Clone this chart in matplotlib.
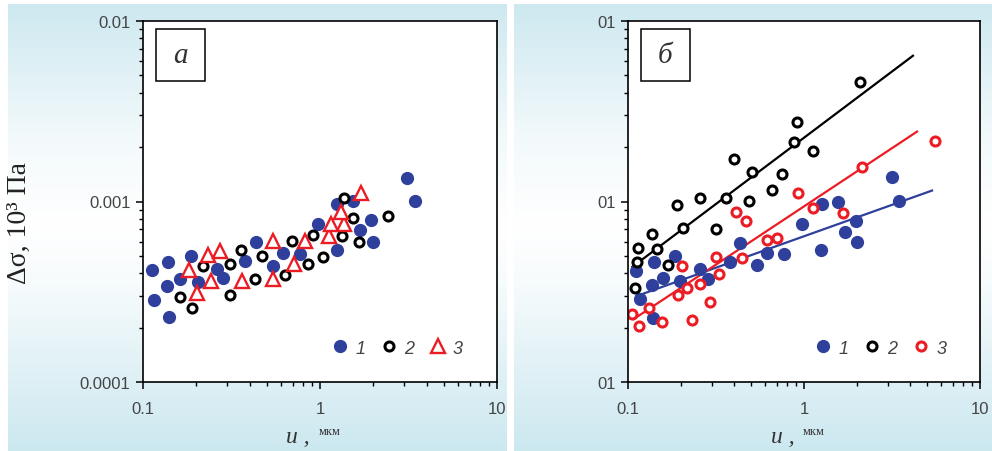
import numpy as np
import matplotlib
matplotlib.use('Agg')
import matplotlib.pyplot as plt
from matplotlib.patches import Rectangle

# series 1 (filled blue), same in both panels
x1 = [0.112, 0.116, 0.139, 0.136, 0.140, 0.162, 0.187, 0.204, 0.261, 0.282, 0.377, 0.435,
      0.541, 0.615, 0.771, 0.978, 1.24, 1.54, 1.24, 1.68, 1.94, 1.99, 3.11, 3.44]
y1 = [4.17e-4, 2.86e-4, 4.62e-4, 3.42e-4, 2.29e-4, 3.72e-4, 4.99e-4, 3.60e-4, 4.23e-4, 3.76e-4,
      4.70e-4, 5.94e-4, 4.41e-4, 5.19e-4, 5.12e-4, 7.50e-4, 9.69e-4, 1.01e-3, 5.39e-4, 6.95e-4,
      7.90e-4, 5.94e-4, 1.35e-3, 1.01e-3]

# panel a, series 2 (black open) and 3 (red triangles)
x2a = [0.162, 0.189, 0.217, 0.309, 0.311, 0.358, 0.427, 0.473, 0.632, 0.692, 0.850, 0.913,
       1.04, 1.34, 1.37, 1.54, 1.67, 2.42]
y2a = [2.94e-4, 2.56e-4, 4.41e-4, 3.02e-4, 4.48e-4, 5.39e-4, 3.70e-4, 5.02e-4, 3.94e-4, 6.08e-4,
       4.48e-4, 6.52e-4, 4.93e-4, 6.47e-4, 1.04e-3, 8.10e-4, 5.98e-4, 8.28e-4]
x3a = [0.182, 0.201, 0.234, 0.272, 0.242, 0.362, 0.541, 0.541, 0.716, 0.820, 1.12, 1.16,
       1.36, 1.31, 1.71]
y3a = [4.17e-4, 3.12e-4, 5.08e-4, 5.32e-4, 3.63e-4, 3.64e-4, 6.04e-4, 3.72e-4, 4.52e-4, 6.04e-4,
       6.40e-4, 7.46e-4, 7.46e-4, 8.71e-4, 1.12e-3]

# panel б
x2b = [0.110, 0.113, 0.114, 0.136, 0.146, 0.169, 0.189, 0.206, 0.258, 0.318, 0.362, 0.402,
       0.489, 0.507, 0.658, 0.746, 0.877, 0.912, 1.13, 2.08]
y2b = [3.33e-4, 4.60e-4, 5.52e-4, 6.61e-4, 5.46e-4, 4.47e-4, 9.57e-4, 7.11e-4, 1.05e-3, 7.00e-4,
       1.05e-3, 1.73e-3, 1.01e-3, 1.45e-3, 1.16e-3, 1.42e-3, 2.14e-3, 2.77e-3, 1.90e-3, 4.61e-3]
x3b = [0.106, 0.115, 0.131, 0.156, 0.193, 0.215, 0.204, 0.231, 0.258, 0.291, 0.318, 0.327,
       0.410, 0.444, 0.470, 0.617, 0.699, 0.929, 1.13, 1.67, 2.14, 5.57]
y3b = [2.37e-4, 2.04e-4, 2.56e-4, 2.15e-4, 3.03e-4, 3.32e-4, 4.39e-4, 2.21e-4, 3.51e-4, 2.77e-4,
       4.91e-4, 3.99e-4, 8.71e-4, 4.88e-4, 7.78e-4, 6.10e-4, 6.29e-4, 1.12e-3, 9.17e-4, 8.67e-4,
       1.55e-3, 2.16e-3]
x1b = [0.111, 0.117, 0.138, 0.136, 0.140, 0.158, 0.186, 0.198, 0.258, 0.285, 0.381, 0.431,
       0.538, 0.613, 0.773, 0.974, 1.25, 1.27, 1.56, 1.72, 1.97, 2.00, 3.16, 3.45]
y1b = [4.14e-4, 2.87e-4, 2.27e-4, 3.43e-4, 4.60e-4, 3.79e-4, 5.01e-4, 3.64e-4, 4.23e-4, 3.73e-4,
       4.60e-4, 5.91e-4, 4.43e-4, 5.19e-4, 5.15e-4, 7.54e-4, 5.39e-4, 9.69e-4, 9.97e-4, 6.80e-4,
       7.83e-4, 5.94e-4, 1.36e-3, 1.01e-3]

# fit lines (end points)
fit1_x = [0.1115, 5.34]
fit1_y = [2.99e-4, 1.15e-3]
fit2_x = [0.1058, 4.16]
fit2_y = [4.34e-4, 6.42e-3]
fit3_x = [0.1076, 4.39]
fit3_y = [2.23e-4, 2.44e-3]

BLUE = '#2f3f9c'
RED = '#ec1c24'
SERIF = 'Liberation Serif'
SANS = 'Liberation Sans'
TICKC = '#444444'

fig = plt.figure(figsize=(9.92, 4.52), dpi=100)

# light blue background gradient
bg = fig.add_axes([0, 0, 1, 1], zorder=-10)
grad = np.interp(np.linspace(0, 1, 200), [0, 0.3, 0.5, 0.62, 1.0], [0.0, 0.75, 1.0, 0.85, 0.0])
top = np.array([0.80, 0.91, 0.94])
img = top[None, :] + (1 - top[None, :]) * grad[:, None]
bg.imshow(img[:, None, :].repeat(2, axis=1), aspect='auto', extent=[0, 1, 0, 1])
bg.set_xlim(0, 1)
bg.set_ylim(0, 1)
bg.axis('off')
for r in [(0, 0, 8 / 992, 1), (507 / 992, 0, 7 / 992, 1), (0, 1 - 5 / 452, 1, 5 / 452)]:
    bg.add_patch(Rectangle(r[:2], r[2], r[3], color='white', lw=0))

ax1 = fig.add_axes([143 / 992, 69 / 452, 354 / 992, 361 / 452])
ax2 = fig.add_axes([628 / 992, 69 / 452, 352 / 992, 361 / 452])

ax1.plot(x1, y1, ls='none', marker='o', ms=8.5, mfc=BLUE, mec=BLUE, label='1')
ax1.plot(x2a, y2a, ls='none', marker='o', ms=6.5, mfc='white', mec='black', mew=2.2, label='2')
ax1.plot(x3a, y3a, ls='none', marker='^', ms=9.5, mfc='white', mec=RED, mew=1.7, label='3')

ax2.plot(fit1_x, fit1_y, color=BLUE, lw=1.6)
ax2.plot(fit2_x, fit2_y, color='black', lw=1.6)
ax2.plot(fit3_x, fit3_y, color=RED, lw=1.6)
ax2.plot(x1b, y1b, ls='none', marker='o', ms=8.5, mfc=BLUE, mec=BLUE, label='1')
ax2.plot(x2b, y2b, ls='none', marker='o', ms=6.5, mfc='white', mec='black', mew=2.2, label='2')
ax2.plot(x3b, y3b, ls='none', marker='o', ms=6.5, mfc='white', mec=RED, mew=2.2, label='3')

for ax, lab, ylabs in [(ax1, 'а', ['0.0001', '0.001', '0.01']), (ax2, 'б', ['01', '01', '01'])]:
    ax.set_xscale('log')
    ax.set_yscale('log')
    ax.set_xlim(0.1, 10)
    ax.set_ylim(1e-4, 1e-2)
    ax.set_facecolor('white')
    ax.set_xticks([0.1, 1, 10], ['0.1', '1', '10'])
    ax.set_yticks([1e-4, 1e-3, 1e-2], ylabs)
    ax.tick_params(which='major', length=5, width=1.1, labelsize=12, labelcolor=TICKC, pad=4)
    ax.tick_params(which='minor', length=3, width=1.0)
    ax.tick_params(axis='x', pad=9)
    for lbl in ax.get_xticklabels() + ax.get_yticklabels():
        lbl.set_family(SANS)
    for s in ax.spines.values():
        s.set_linewidth(1.2)
    ax.add_patch(Rectangle((0.037, 0.835), 0.138, 0.144, transform=ax.transAxes,
                           fc='white', ec='black', lw=1.1, zorder=5))
    ax.text(0.106, 0.905, lab, transform=ax.transAxes, ha='center', va='center',
            family=SERIF, style='italic', fontsize=21, color='#333333', zorder=6)
    leg = ax.legend(loc='lower right', bbox_to_anchor=(0.95, 0.025), ncol=3, frameon=False,
                    handlelength=0.8, handletextpad=0.45, columnspacing=0.9,
                    prop={'family': SANS, 'style': 'italic', 'size': 13})
    for t in leg.get_texts():
        t.set_color(TICKC)
    ax.text(0.405, -0.152, 'u ,', transform=ax.transAxes, ha='left', va='center',
            family=SERIF, style='italic', fontsize=17, color='#333333')
    ax.text(0.495, -0.135, 'мкм', transform=ax.transAxes, ha='left', va='center',
            family=SERIF, fontsize=9, color='#333333')

fig.text(19 / 992, 1 - 223 / 452, 'Δσ, 10³ Па', rotation=90, ha='center', va='center',
         family=SERIF, fontsize=20, color='#222222')

fig.savefig('out.png', dpi=100)
